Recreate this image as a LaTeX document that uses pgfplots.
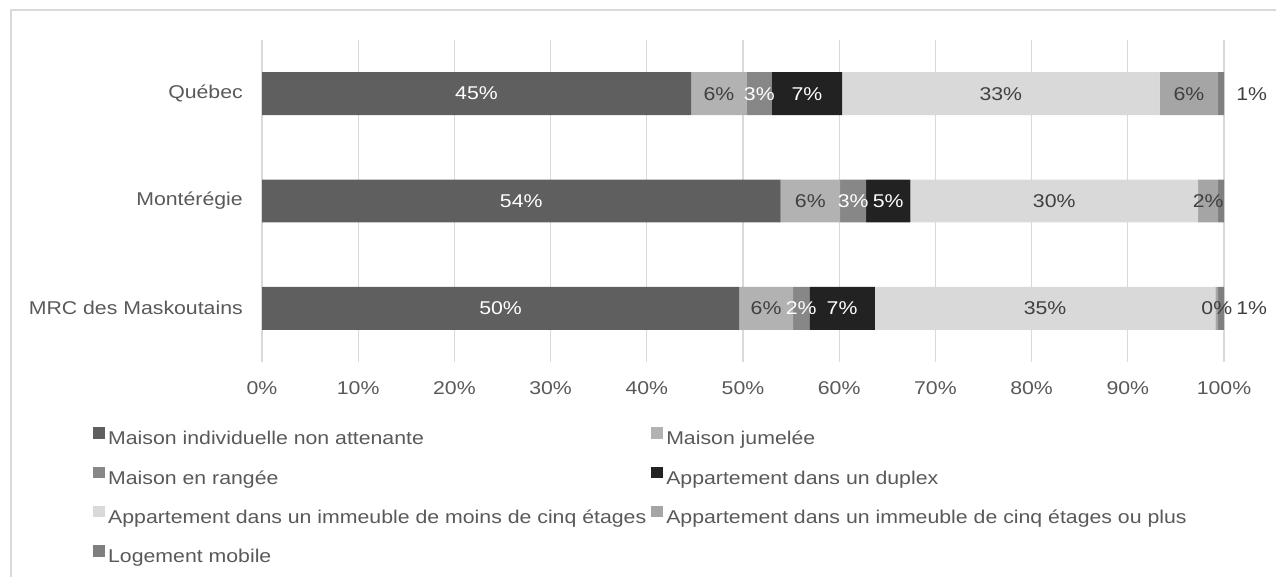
\documentclass[border=0pt]{standalone}
\usepackage{pgfplots}
\pgfplotsset{compat=1.18}
\usepackage{fontspec}
\setmainfont[FakeStretch=1.15]{Liberation Sans}
\definecolor{c1}{HTML}{5F5F5F}
\definecolor{c2}{HTML}{B2B2B2}
\definecolor{c3}{HTML}{878787}
\definecolor{c4}{HTML}{222222}
\definecolor{c5}{HTML}{D9D9D9}
\definecolor{c6}{HTML}{A5A5A5}
\definecolor{c7}{HTML}{7F7F7F}
\definecolor{gridc}{HTML}{D9D9D9}
\definecolor{txt}{HTML}{595959}
\definecolor{lbl}{HTML}{404040}
\newcommand{\fs}{\fontsize{18.5bp}{22bp}\selectfont}
\pgfplotsset{
  midlab/.style={
    nodes near coords={\pgfmathprintnumber[fixed,precision=0]{\pgfplotspointmeta}\%},
    every node near coord/.style={anchor=center, inner sep=0pt, font=\fs, text=#1},
  },
}
\begin{document}
\begin{tikzpicture}
\useasboundingbox (0,0) rectangle (1276bp,577bp);
\draw[color=gridc, line width=1.3bp] (11bp,-5bp) -- (11bp,567bp) -- (1290bp,567bp);
\begin{axis}[
  at={(262bp,215bp)}, anchor=south west, scale only axis,
  width=962bp, height=322bp,
  xbar stacked, bar width=0.4,
  xmin=0, xmax=100, ymin=-0.5, ymax=2.5,
  ytick={0,1,2}, yticklabels={MRC des Maskoutains, Montérégie, Québec},
  xtick={0,10,...,100}, xticklabel={\pgfmathprintnumber{\tick}\%},
  /pgf/number format/assume math mode=true,
  xmajorgrids, grid style={color=gridc, line width=1.3bp},
  axis line style={draw=none}, major tick length=0pt,
  tick label style={font=\fs, text=txt},
  yticklabel style={inner sep=0pt, anchor=east, xshift=-19bp},
  xticklabel style={inner sep=0pt, anchor=north, yshift=-19bp},
  point meta=rawx,
  legend columns=2,
  legend cell align=left,
  legend style={at={(axis description cs:-0.1757,-0.2019)}, anchor=north west,
    draw=none, fill=none, inner sep=0pt, font=\fs, text=txt,
    nodes={inner sep=0pt},
    row sep=20.3bp,
    /tikz/every odd column/.append style={column sep=3.5bp},
    /tikz/every even column/.append style={column sep=5bp}},
  legend image code/.code={\fill[#1] (0bp,0bp) rectangle (11.5bp,11.5bp);},
]
\addplot[fill=c1, draw=none, midlab=white] coordinates {(44.6,2) (53.9,1) (49.6,0)};
\addlegendentry{Maison individuelle non attenante}
\addplot[fill=c2, draw=none, midlab=lbl] coordinates {(5.8,2) (6.2,1) (5.6,0)};
\addlegendentry{Maison jumelée}
\addplot[fill=c3, draw=none, midlab=white] coordinates {(2.6,2) (2.7,1) (1.7,0)};
\addlegendentry{Maison en rangée}
\addplot[fill=c4, draw=none, midlab=white] coordinates {(7.3,2) (4.6,1) (6.8,0)};
\addlegendentry{Appartement dans un duplex}
\addplot[fill=c5, draw=none, midlab=lbl] coordinates {(33.0,2) (29.9,1) (35.4,0)};
\addlegendentry{Appartement dans un immeuble de moins de cinq étages}
\addplot[fill=c6, draw=none, midlab=lbl] coordinates {(6.1,2) (2.1,1) (0.3,0)};
\addlegendentry{Appartement dans un immeuble de cinq étages ou plus}
\addplot[fill=c7, draw=none,
  nodes near coords={\pgfmathprintnumber[fixed,precision=0]{\pgfplotspointmeta}\%},
  every node near coord/.style={anchor=west, inner sep=0pt, font=\fs, text=lbl, xshift=15bp}]
  coordinates {(0.6,2) (0.7,1) (0.6,0)};
\addlegendentry{Logement mobile}
\end{axis}
\end{tikzpicture}
\end{document}
